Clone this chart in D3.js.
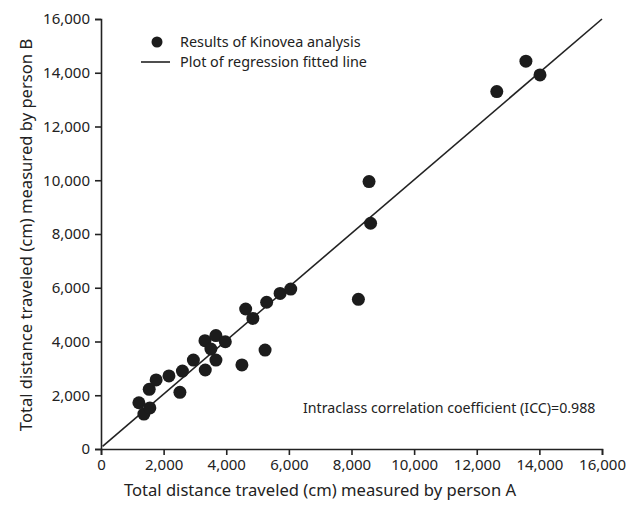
<!DOCTYPE html>
<html>
<head>
<meta charset="utf-8">
<script src="https://cdn.jsdelivr.net/npm/d3@7"></script>
<style>
body { margin: 0; background: #fff; }
text { font-family: "Noto Sans", sans-serif; }
</style>
</head>
<body>
<div class="chart"></div>
<script>
// distance measured by person A (cm)
var personA = [1210, 1370, 1560, 1540, 1760, 2170, 2520, 2600, 2950, 3330, 3320, 3510, 3670, 3670, 3970,
    4500, 4620, 4850, 5240, 5290, 5720, 6060, 8560, 8610, 8220, 12640, 13570, 14020];
// distance measured by person B (cm)
var personB = [1720, 1300, 1530, 2220, 2570, 2720, 2110, 2900, 3310, 2940, 4030, 3720, 4220, 3310, 3990,
    3130, 5210, 4860, 3680, 5460, 5790, 5950, 9950, 8400, 5570, 13300, 14430, 13920];
// regression fitted line ends
var fitA = [50, 16000];
var fitB = [100, 16000];
var tickValues = [0, 2000, 4000, 6000, 8000, 10000, 12000, 14000, 16000];

var svg = d3.select(".chart")
    .append("svg")
    .attr("width", 641)
    .attr("height", 516)

var x = d3.scaleLinear().domain([0, 16000]).range([101, 602])
var y = d3.scaleLinear().domain([0, 16000]).range([449, 19])
var fmt = d3.format(",")

var xAxis = svg.append("g")
    .attr("transform", "translate(0,449)")
    .call(d3.axisBottom(x).tickValues(tickValues).tickFormat(fmt).tickSizeOuter(0).tickSize(6).tickPadding(4))
var yAxis = svg.append("g")
    .attr("transform", "translate(101,0)")
    .call(d3.axisLeft(y).tickValues(tickValues).tickFormat(fmt).tickSizeOuter(0).tickSize(6).tickPadding(5))

svg.selectAll(".domain, .tick line")
    .style("stroke", "#222")
    .style("stroke-width", 1.6)
svg.selectAll(".tick text")
    .style("font-size", "15px")
    .attr("font-family", "Noto Sans")
    .attr("fill", "#222")

// regression line
svg.append("line")
    .attr("x1", x(fitA[0]))
    .attr("y1", y(fitB[0]))
    .attr("x2", x(fitA[1]))
    .attr("y2", y(fitB[1]))
    .style("stroke", "#222")
    .style("stroke-width", 1.6)

for (var i = 0; i < personA.length; i++) {
    svg.append("circle")
        .attr("cx", x(personA[i]))
        .attr("cy", y(personB[i]))
        .attr("r", 6.5)
        .style("fill", "#1c1c1c")
}

// legend
svg.append("circle")
    .attr("cx", 157)
    .attr("cy", 42)
    .attr("r", 5.5)
    .style("fill", "#1c1c1c")
svg.append("line")
    .attr("x1", 141)
    .attr("y1", 62)
    .attr("x2", 170)
    .attr("y2", 62)
    .style("stroke", "#222")
    .style("stroke-width", 1.6)
svg.append("text")
    .attr("x", 180)
    .attr("y", 47)
    .text("Results of Kinovea analysis")
    .style("font-size", "14.4px")
    .attr("fill", "#222")
svg.append("text")
    .attr("x", 180)
    .attr("y", 67)
    .text("Plot of regression fitted line")
    .style("font-size", "14.4px")
    .attr("fill", "#222")

svg.append("text")
    .attr("x", 303)
    .attr("y", 413)
    .text("Intraclass correlation coefficient (ICC)=0.988")
    .style("font-size", "14.2px")
    .attr("fill", "#222")

svg.append("text")
    .attr("x", 320)
    .attr("y", 496)
    .attr("text-anchor", "middle")
    .text("Total distance traveled (cm) measured by person A")
    .style("font-size", "16.6px")
    .attr("fill", "#222")

svg.append("text")
    .attr("transform", "translate(32,235) rotate(-90)")
    .attr("text-anchor", "middle")
    .text("Total distance traveled (cm) measured by person B")
    .style("font-size", "16.6px")
    .attr("fill", "#222")
</script>
</body>
</html>
